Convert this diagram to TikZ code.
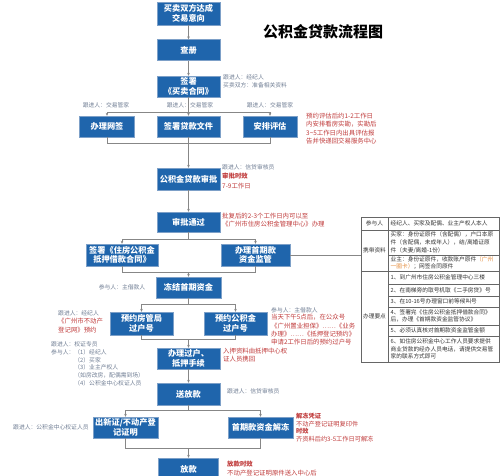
\documentclass[tikz,border=0pt]{standalone}
\usepackage{fontspec}
\setmainfont{Noto Sans CJK SC}
\usetikzlibrary{arrows.meta}
\definecolor{boxblue}{RGB}{31,101,172}
\definecolor{boxline}{RGB}{125,160,200}
\definecolor{notegray}{RGB}{112,126,148}
\definecolor{notered}{RGB}{192,58,58}
\definecolor{noteorange}{RGB}{228,140,60}
\definecolor{linegray}{RGB}{135,135,135}

\begin{document}
\begin{tikzpicture}[x=1pt,y=-1pt,
  box/.style={draw=boxline, fill=boxblue, text=white, font=\fontsize{8.2}{9.6}\selectfont\bfseries, align=center, inner sep=1pt, minimum height=21pt},
  note/.style={text=notegray, font=\fontsize{5.8}{7.8}\selectfont, inner sep=0pt, align=left},
  rnote/.style={text=notered, font=\fontsize{6.4}{8.4}\selectfont, inner sep=0pt, align=left},
  cell/.style={text=black!80, font=\fontsize{5.7}{7.6}\selectfont, inner sep=0pt, align=left, anchor=west},
  link/.style={draw=linegray, line width=0.6pt},
  tline/.style={draw=black!60, line width=0.4pt},
  >={Stealth[length=3pt,width=2.6pt]}]
\fill[white] (0,0) rectangle (500,475);
\useasboundingbox (0,0) rectangle (500,475);

\node[font=\fontsize{15}{15}\selectfont\bfseries] (title) at (323,32) {公积金贷款流程图};

% main flow
\node[box, minimum width=63pt, minimum height=23pt] (1) at (188.5,13.5) {买卖双方达成\\交易意向};
\node[box, minimum width=63pt] (2) at (188.5,50) {查册};
\node[box, minimum width=63pt] (3) at (188.5,86.5) {签署\\《买卖合同》};
\node[box, minimum width=55pt] (4) at (107,126.5) {办理网签};
\node[box, minimum width=63pt] (5) at (188.5,126.5) {签署贷款文件};
\node[box, minimum width=54pt] (6) at (270,126.5) {安排评估};
\node[box, minimum width=63pt, minimum height=22pt] (7) at (188.5,179) {公积金贷款审批};
\node[box, minimum width=63pt, minimum height=20pt] (8) at (188.5,222) {审批通过};
\node[box, minimum width=72pt, minimum height=22pt] (9) at (122,255) {签署《住房公积金\\抵押借款合同》};
\node[box, minimum width=69pt, minimum height=22pt] (10) at (255.5,255) {办理首期款\\资金监管};
\node[box, minimum width=65pt] (11) at (188.5,287.5) {冻结首期资金};
\node[box, minimum width=63pt, minimum height=23pt] (12) at (141.5,323.5) {预约房管局\\过户号};
\node[box, minimum width=63pt, minimum height=23pt] (13) at (235.5,323.5) {预约公积金\\过户号};
\node[box, minimum width=63pt] (14) at (188.5,358.5) {办理过户、\\抵押手续};
\node[box, minimum width=63pt, minimum height=22pt] (15) at (188.5,394) {送放款};
\node[box, minimum width=65pt] (16) at (125.5,427.5) {出新证/不动产登\\记证明};
\node[box, minimum width=65pt] (17) at (260.5,427.5) {首期款资金解冻};
\node[box, minimum width=60pt, minimum height=22pt] (18) at (188.5,469) {放款};

\coordinate (s1) at (188.5,112.5);
\coordinate (m1) at (188.5,143);
\coordinate (s2) at (188.5,239);
\coordinate (m2) at (188.5,272);
\coordinate (s3) at (188.5,304);
\coordinate (m3) at (188.5,339);
\coordinate (s4) at (188.5,410);
\coordinate (m4) at (188.5,448);
\coordinate (tbl) at (361,255);

\path[link,->] (1) -- (2);
\path[link,->] (2) -- (3);
\path[link] (3) -- (s1);
\path[link,->] (s1) -| (4);
\path[link,->] (s1) -- (5);
\path[link,->] (s1) -| (6);
\path[link] (4) |- (m1);
\path[link] (6) |- (m1);
\path[link,->] (5) -- (7);
\path[link,->] (7) -- (8);
\path[link] (8) -- (s2);
\path[link,->] (s2) -| (9);
\path[link,->] (s2) -| (10);
\path[link] (9) |- (m2);
\path[link] (10) |- (m2);
\path[link,->] (m2) -- (11);
\path[link] (10) -- (tbl);
\path[link] (11) -- (s3);
\path[link,->] (s3) -| (12);
\path[link,->] (s3) -| (13);
\path[link] (12) |- (m3);
\path[link] (13) |- (m3);
\path[link,->] (m3) -- (14);
\path[link,->] (14) -- (15);
\path[link] (15) -- (s4);
\path[link,->] (s4) -| (16);
\path[link,->] (s4) -| (17);
\path[link] (16) |- (m4);
\path[link] (17) |- (m4);
\path[link,->] (m4) -- (18);

% notes
\node[note, anchor=west] (a1) at (223,77) {跟进人：经纪人};
\node[note, anchor=west] (a2) at (223,85.5) {买卖双方：准备相关资料};
\node[note] (a3) at (106,105) {跟进人：交易管家};
\node[note] (a4) at (190,105) {跟进人：交易管家};
\node[note] (a5) at (270,105) {跟进人：交易管家};
\node[rnote, anchor=north west] (a6) at (306,113) {预约评估后约1-2工作日\\内安排看房实勘，实勘后\\3\textasciitilde5工作日内出具评估报\\告并快递回交易服务中心};
\node[note, anchor=west] (a7) at (222,167) {跟进人：信贷审核员};
\node[rnote, anchor=west, font=\fontsize{6.4}{8.4}\selectfont\bfseries] (a8) at (222,176.5) {审批时效};
\node[rnote, anchor=west] (a9) at (222,186) {7-9工作日};
\node[rnote, anchor=west] (a10) at (222,220) {批复后的2-3个工作日内可以至\\《广州市住房公积金管理中心》办理};
\node[note] (a11) at (122,287.5) {参与人：主借款人};
\node[note, anchor=west] (a12) at (58,313) {跟进人：经纪人};
\node[rnote, anchor=north west] (a13) at (58,318) {《广州市不动产\\登记网》预约};
\node[note, anchor=west] (a14) at (271,310) {参与人：主借款人};
\node[rnote, anchor=north west] (a15) at (271,314) {当天下午5点后，在公众号\\《广州置业担保》……《业务\\办理》……《抵押登记预约》\\申请2工作日后的预约过户号};
\node[rnote, anchor=west] (a16) at (223,355) {入押资料由抵押中心权\\证人员携回};
\node[note, anchor=north west] (a17) at (51,341.5) {跟进人：权证专员\\参与人：（1）经纪人\\\hphantom{参与人：}（2）买家\\\hphantom{参与人：}（3）业主产权人\\\hphantom{参与人：}（如房改房，配偶需到场）\\\hphantom{参与人：}（4）公积金中心权证人员};
\node[note, anchor=west] (a18) at (227,391) {跟进人：信贷审核员};
\node[note, anchor=west] (a19) at (13,427) {跟进人：公积金中心权证人员};
\node[rnote, anchor=north west, font=\fontsize{6.2}{7.7}\selectfont] (a20) at (296,413) {\textbf{解冻凭证}\\不动产登记证明复印件\\\textbf{时效}\\齐资料后约3-5工作日可解冻};
\node[rnote, anchor=north west] (a21) at (227,461) {\textbf{放款时效}\\不动产登记证明原件送入中心后};

% table
\draw[tline] (361,217) rectangle (499,362);
\draw[tline] (388,217) -- (388,362);
\foreach \y in {230,271} \draw[tline] (361,\y) -- (499,\y);
\foreach \y in {255,284,296,307,325,336} \draw[tline] (388,\y) -- (499,\y);

\node[cell, anchor=center] (c1) at (374.5,223.5) {参与人};
\node[cell, anchor=center] (c2) at (374.5,250.5) {携带资料};
\node[cell, anchor=center] (c3) at (374.5,316.5) {办理要点};
\node[cell] (d1) at (390.5,223.5) {经纪人、买家及配偶、业主产权人本人};
\node[cell] (d2) at (390.5,242.5) {买家：身份证原件（含配偶），户口本原\\件（含配偶，未成年人），结/离婚证原\\件（夫妻/离婚-1份）};
\node[cell] (d3) at (390.5,263) {业主：身份证原件，收款账户原件\textcolor{noteorange}{（广州}\\\textcolor{noteorange}{一圈卡）}；网签合同原件};
\node[cell] (d4) at (390.5,277.5) {1、到广州市住房公积金管理中心三楼};
\node[cell] (d5) at (390.5,290) {2、在南梯旁的取号机取《二手房贷》号};
\node[cell] (d6) at (390.5,301.5) {3、在10-16号办理窗口前等候叫号};
\node[cell] (d7) at (390.5,316) {4、签署完《住房公积金抵押借款合同》\\后，办理《首期款资金监管协议》};
\node[cell] (d8) at (390.5,330.5) {5、必须认真核对首期款资金监管金额};
\node[cell] (d9) at (390.5,349) {6、如住房公积金中心工作人员要求提供\\商业贷款的经办人员电话，请提供交易管\\家的联系方式即可};
\end{tikzpicture}
\end{document}
